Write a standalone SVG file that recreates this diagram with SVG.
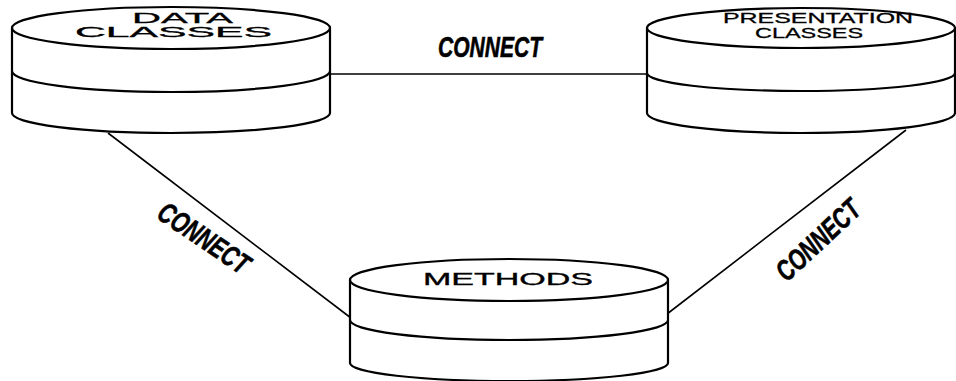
<svg xmlns="http://www.w3.org/2000/svg" width="956" height="381" viewBox="0 0 956 381">
<style>
.cyl{fill:#fff;stroke:#000;stroke-width:2.2;stroke-linejoin:round}
.con{stroke:#000;stroke-width:1.6;fill:none}
.lbl{font-family:"Liberation Sans",Arial,sans-serif;font-size:15px;fill:#000;stroke:#000;stroke-width:0.3}
.cn{font-family:"Liberation Sans",Arial,sans-serif;font-size:29px;font-weight:bold;font-style:italic;fill:#000;stroke:#000;stroke-width:0.6}
</style>
<rect width="956" height="381" fill="#fff"/>
<g id="connectors">
<line class="con" x1="330" y1="74" x2="647" y2="74"/>
<line class="con" x1="108" y1="133" x2="351" y2="318"/>
<line class="con" x1="667" y1="314" x2="906" y2="130"/>
<text class="cn" x="490" y="57" text-anchor="middle" textLength="104" lengthAdjust="spacingAndGlyphs">CONNECT</text>
<text class="cn" transform="translate(204,238) rotate(34)" x="0" y="10" text-anchor="middle" textLength="104" lengthAdjust="spacingAndGlyphs">CONNECT</text>
<text class="cn" transform="translate(818,240) rotate(-43)" x="0" y="10" text-anchor="middle" textLength="104" lengthAdjust="spacingAndGlyphs">CONNECT</text>
</g>
<g id="data-classes">
<path class="cyl" d="M12,28 L12,113 A159,20 0 0 0 330,113 L330,28 Z"/>
<path class="cyl" d="M12,71 A159,21 0 0 0 330,71" fill="none"/>
<ellipse class="cyl" cx="171" cy="28" rx="159" ry="21"/>
<text class="lbl" x="132" y="23" textLength="101" lengthAdjust="spacingAndGlyphs">DATA</text>
<text class="lbl" x="75" y="37" textLength="197" lengthAdjust="spacingAndGlyphs">CLASSES</text>
</g>
<g id="presentation-classes">
<path class="cyl" d="M647,28 L647,113 A154,20 0 0 0 955,113 L955,28 Z"/>
<path class="cyl" d="M647,73 A154,18 0 0 0 955,73" fill="none"/>
<ellipse class="cyl" cx="801" cy="28" rx="154" ry="20"/>
<text class="lbl" x="723" y="23" textLength="190" lengthAdjust="spacingAndGlyphs">PRESENTATION</text>
<text class="lbl" x="755" y="38" textLength="108" lengthAdjust="spacingAndGlyphs">CLASSES</text>
</g>
<g id="methods">
<path class="cyl" d="M350,280 L350,363 A159,18 0 0 0 668,363 L668,280 Z"/>
<path class="cyl" d="M350,320 A159,20 0 0 0 668,320" fill="none"/>
<ellipse class="cyl" cx="509" cy="280" rx="159" ry="21"/>
<text class="lbl" style="font-size:16px" x="423" y="285" textLength="170" lengthAdjust="spacingAndGlyphs">METHODS</text>
</g>
</svg>
